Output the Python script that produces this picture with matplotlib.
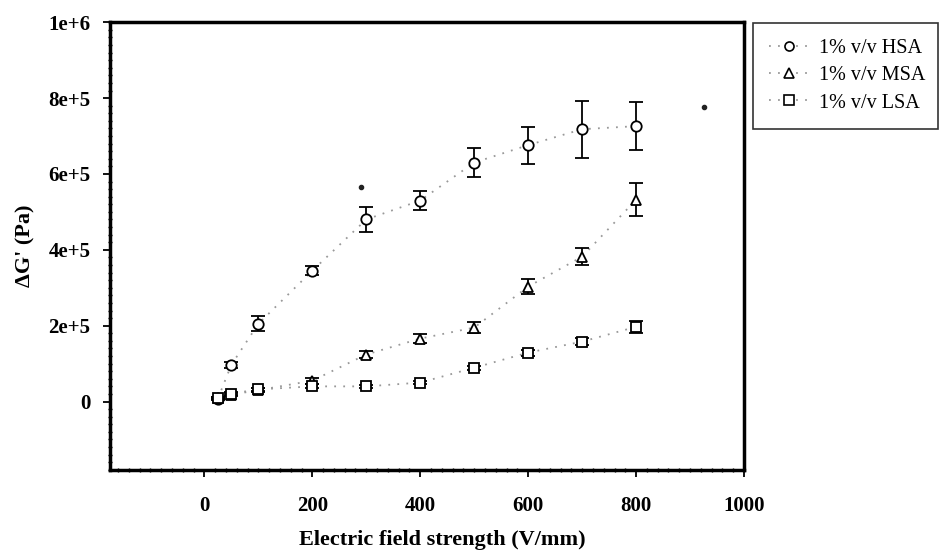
import numpy as np
import matplotlib.pyplot as plt
from matplotlib.ticker import MultipleLocator, FixedLocator
from matplotlib.lines import Line2D

# field strengths (V/mm)
field = [25, 50, 100, 200, 300, 400, 500, 600, 700, 800]

# storage modulus response (Pa) and error bars
hsa = [8e3, 9.7e4, 2.05e5, 3.45e5, 4.8e5, 5.3e5, 6.3e5, 6.76e5, 7.18e5, 7.26e5]
hsa_err = [4e3, 8e3, 2.0e4, 1.2e4, 3.4e4, 2.5e4, 3.8e4, 4.9e4, 7.5e4, 6.4e4]
msa = [1.0e4, 1.8e4, 3.0e4, 5.5e4, 1.24e5, 1.66e5, 1.95e5, 3.03e5, 3.82e5, 5.32e5]
msa_err = [3e3, 4e3, 5e3, 8e3, 1.0e4, 1.2e4, 1.4e4, 2.0e4, 2.3e4, 4.4e4]
lsa = [1.0e4, 2.1e4, 3.2e4, 4.0e4, 4.0e4, 5.0e4, 8.9e4, 1.29e5, 1.58e5, 1.97e5]
lsa_err = [3e3, 4e3, 4e3, 5e3, 4e3, 5e3, 6e3, 8e3, 1.0e4, 1.5e4]

# two stray points
stray_x = [291, 926]
stray_y = [5.66e5, 7.76e5]

labels = ['1% v/v HSA', '1% v/v MSA', '1% v/v LSA']
markers = ['o', '^', 's']

plt.rcParams['font.family'] = ['Liberation Serif', 'DejaVu Serif']

fig = plt.figure(figsize=(9.4, 5.56), dpi=100)
ax = fig.add_axes([0.117, 0.155, 0.6745, 0.805])

dot_style = (0, (1, 4))
for vals, errs, mk in zip([hsa, msa, lsa], [hsa_err, msa_err, lsa_err], markers):
    ax.plot(field, vals, linestyle=dot_style, color='#999999', linewidth=1.3, zorder=1)
    ax.errorbar(field, vals, yerr=errs, fmt=mk, ms=7.5,
                mfc='white', mec='black', mew=1.3, ecolor='black',
                elinewidth=1.3, capsize=5, capthick=1.5, zorder=3)

ax.plot(stray_x, stray_y, 'o', ms=3, color='#222222', zorder=3)

ax.set_xlim(-175, 1000)
ax.set_ylim(-1.8e5, 1e6)
ax.xaxis.set_major_locator(FixedLocator([0, 200, 400, 600, 800, 1000]))
ax.yaxis.set_major_locator(FixedLocator([0, 2e5, 4e5, 6e5, 8e5, 1e6]))
ax.set_xticklabels(['0', '200', '400', '600', '800', '1000'])
ax.set_yticklabels(['0', '2e+5', '4e+5', '6e+5', '8e+5', '1e+6'])
ax.xaxis.set_minor_locator(MultipleLocator(20))
ax.yaxis.set_minor_locator(MultipleLocator(2e4))

for s in ax.spines.values():
    s.set_linewidth(2.5)
ax.tick_params(which='major', direction='out', length=5, width=1.3, labelsize=15)
ax.tick_params(axis='x', which='major', pad=14)
ax.tick_params(axis='y', which='major', pad=9)
ax.tick_params(which='minor', direction='inout', length=3, width=1)
ax.tick_params(top=False, right=False, which='both')
for lab in ax.get_xticklabels() + ax.get_yticklabels():
    lab.set_fontweight('bold')

ax.set_xlabel('Electric field strength (V/mm)', fontsize=16, fontweight='bold', va='center')
ax.xaxis.set_label_coords(0.524, -0.156)
ax.set_ylabel("ΔG' (Pa)", fontsize=16, fontweight='bold', va='center')
ax.yaxis.set_label_coords(-0.133, 0.5)

handles = [Line2D([], [], linestyle=dot_style, color='#999999', linewidth=1.3,
                  marker=mk, ms=6.5, mfc='white', mec='black', mew=1.2)
           for mk in markers]
leg = fig.legend(handles, labels, loc='upper left',
                 bbox_to_anchor=(753 / 940, (556 - 127) / 556, 185 / 940, 104 / 556),
                 mode='expand', fontsize=14.5, frameon=True, fancybox=False,
                 handlelength=2.0, borderpad=0.8, labelspacing=0.4,
                 handletextpad=0.5, borderaxespad=0)
leg.get_frame().set_edgecolor('black')
leg.get_frame().set_linewidth(1.2)

fig.savefig('out.png', dpi=100)
